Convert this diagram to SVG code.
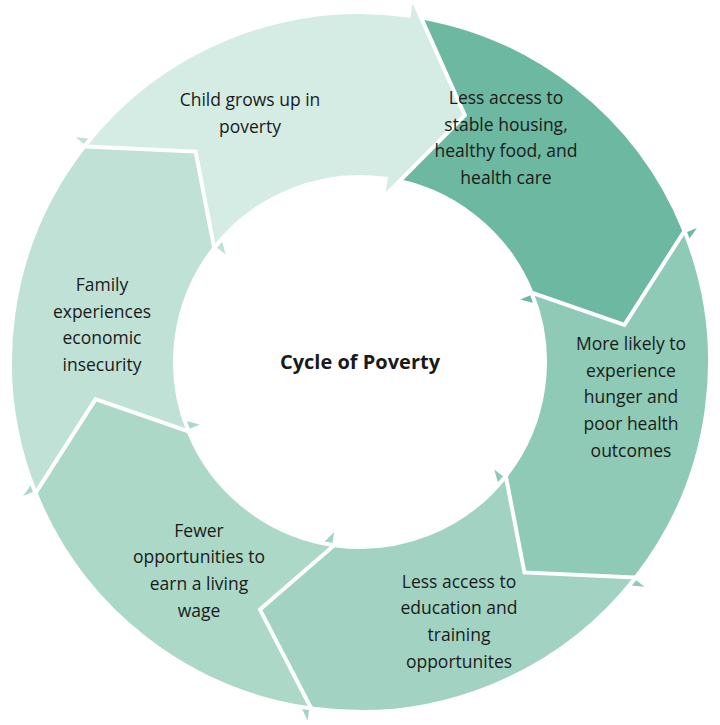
<svg xmlns="http://www.w3.org/2000/svg" width="720" height="725" viewBox="0 0 720 725">
<style>
.seg{stroke:#fff;stroke-width:4;stroke-linejoin:miter}
text{font-family:"Open Sans","Liberation Sans",sans-serif;font-size:17.5px;fill:#1a1a1a;text-anchor:middle}
.c{font-weight:bold;font-size:20px}
</style>
<defs>
<path id="s" d="M 360 12 A 350 350 0 0 1 663.1 187 L 680 177.3 L 619.0 292.7 L 503.8 279 L 520.2 269.5 A 185 185 0 0 0 360 177 L 424.6 102.9 Z"/>
</defs>
<rect width="720" height="725" fill="#fff"/>
<g id="n2"><use href="#s" class="seg" fill="#6db8a0" transform="rotate(8 360 362)"/></g>
<g id="n3"><use href="#s" class="seg" fill="#8ecab5" transform="rotate(68 360 362)"/></g>
<g id="n4"><use href="#s" class="seg" fill="#a2d3c2" transform="rotate(128 360 362)"/></g>
<g id="n5"><use href="#s" class="seg" fill="#acd8c8" transform="rotate(188 360 362)"/></g>
<g id="n6"><use href="#s" class="seg" fill="#c0e2d6" transform="rotate(248 360 362)"/></g>
<g id="n1"><use href="#s" class="seg" fill="#d5ece5" transform="rotate(308 360 362)"/></g>
<g id="connectors"></g>
<g id="labels">
<text x="250" y="106">Child grows up in</text><text x="250" y="133">poverty</text>
<text x="506" y="104">Less access to</text><text x="506" y="131">stable housing,</text><text x="506" y="157">healthy food, and</text><text x="506" y="184">health care</text>
<text x="631" y="350">More likely to</text><text x="631" y="377">experience</text><text x="631" y="403">hunger and</text><text x="631" y="430">poor health</text><text x="631" y="457">outcomes</text>
<text x="459" y="588">Less access to</text><text x="459" y="614">education and</text><text x="459" y="641">training</text><text x="459" y="668">opportunites</text>
<text x="199" y="537">Fewer</text><text x="199" y="563">opportunities to</text><text x="199" y="590">earn a living</text><text x="199" y="617">wage</text>
<text x="102" y="291">Family</text><text x="102" y="318">experiences</text><text x="102" y="344">economic</text><text x="102" y="371">insecurity</text>
<text x="360" y="369" class="c">Cycle of Poverty</text>
</g>
</svg>
